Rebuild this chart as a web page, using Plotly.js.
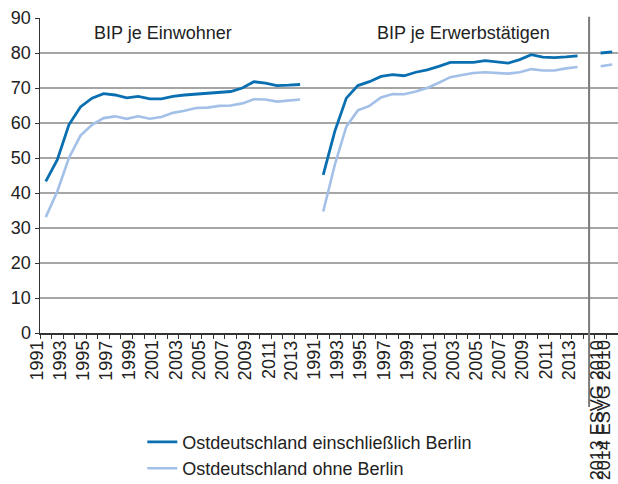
<!DOCTYPE html>
<html>
<head>
<meta charset="utf-8">
<script src="https://cdn.plot.ly/plotly-3.0.1.min.js"></script>
<style>html,body{margin:0;padding:0;background:#fff}#chart{width:618px;height:484px}</style>
</head>
<body>
<div id="chart"></div>
<script>
// ---- data (Westdeutschland = 100) ----
const years = ['1991','1992','1993','1994','1995','1996','1997','1998','1999','2000','2001','2002',
               '2003','2004','2005','2006','2007','2008','2009','2010','2011','2012','2013'];
const esvgLabels = ['2013 ESVG 2010', '2014 ESVG 2010'];
const seriesNames = ['Ostdeutschland einschließlich Berlin', 'Ostdeutschland ohne Berlin'];
const sectionTitles = ['BIP je Einwohner', 'BIP je Erwerbstätigen'];

// BIP je Einwohner
const einwohnerMitBerlin = [43.3,49.5,59.5,64.6,67.1,68.4,68.0,67.2,67.6,66.9,66.9,67.6,
                            68.0,68.3,68.5,68.9,69.0,70.0,71.8,71.4,70.7,70.8,71.0];
const einwohnerOhneBerlin = [33.1,40.5,50.0,56.4,59.5,61.4,61.9,61.2,61.9,61.2,61.7,62.9,
                             63.5,64.3,64.4,64.9,65.0,65.6,66.8,66.7,66.1,66.4,66.7];
// BIP je Erwerbstätigen
const erwerbMitBerlin = [45.2,57.6,67.1,70.7,71.8,73.3,73.8,73.5,74.5,75.2,76.2,77.3,
                         77.3,77.3,77.8,77.5,77.1,78.1,79.5,78.8,78.7,78.9,79.2];
const erwerbOhneBerlin = [34.7,48.0,59.0,63.6,64.9,67.3,68.3,68.2,69.0,70.0,71.5,73.1,
                          73.7,74.3,74.5,74.3,74.1,74.5,75.4,75.0,75.0,75.6,76.0];
// ESVG 2010 (2013, 2014)
const esvgMitBerlin = [80.0, 80.3];
const esvgOhneBerlin = [76.2, 76.7];

// ---- build category positions: segment, gap, segment, gap, ESVG ----
const n = years.length;
const seg1 = years.map((_, i) => i);
const gap1 = n;
const seg2 = years.map((_, i) => n + 1 + i);
const gap2 = 2 * n + 1;
const seg3 = esvgLabels.map((_, i) => gap2 + 1 + i);
const nCat = gap2 + 1 + esvgLabels.length;
const xRange = [-0.5, nCat - 0.5];

const xs = [...seg1, gap1, ...seg2, gap2, ...seg3];
const yMit = [...einwohnerMitBerlin, null, ...erwerbMitBerlin, null, ...esvgMitBerlin];
const yOhne = [...einwohnerOhneBerlin, null, ...erwerbOhneBerlin, null, ...esvgOhneBerlin];

const darkBlue = '#0a6fb0';
const lightBlue = '#a3c0e8';
const font = 'Liberation Sans, Arial, Helvetica, sans-serif';
const txtColor = '#222';

// category labels (every second year per segment, plus both ESVG labels), drawn as rotated text
// placed in paper units derived from the x axis range
const toPaper = v => (v - xRange[0]) / (xRange[1] - xRange[0]);
const labelAnns = [];
const labOff = -0.75;
const labelY = -0.02;
function addLabel(x, t) {
  labelAnns.push({ text: t, xref: 'paper', yref: 'paper', x: toPaper(x), y: labelY, textangle: -90,
    xanchor: 'center', yanchor: 'top', showarrow: false, borderpad: 0,
    font: { family: font, size: 18, color: txtColor } });
}
years.forEach((y, i) => { if (i % 2 === 0) addLabel(seg1[i] + labOff, y); });
years.forEach((y, i) => { if (i % 2 === 0) addLabel(seg2[i] + labOff, y); });
const esvgOff = [-0.32, -0.72];
esvgLabels.forEach((l, i) => addLabel(seg3[i] + esvgOff[i], l));

const traces = [
  { x: xs, y: yOhne, type: 'scatter', mode: 'lines', name: seriesNames[1],
    line: { color: lightBlue, width: 2.6 }, connectgaps: false },
  { x: xs, y: yMit, type: 'scatter', mode: 'lines', name: seriesNames[0],
    line: { color: darkBlue, width: 2.8 }, connectgaps: false }
];

const layout = {
  width: 618, height: 484,
  margin: { l: 40, r: 0, t: 18, b: 151, pad: 0, autoexpand: false },
  paper_bgcolor: '#fff', plot_bgcolor: '#fff',
  font: { family: font, size: 18, color: txtColor },
  showlegend: true,
  legend: { x: 0.177, y: -0.288, xanchor: 'left', yanchor: 'top', orientation: 'v',
            traceorder: 'reversed', font: { family: font, size: 18, color: txtColor },
            bgcolor: 'rgba(0,0,0,0)' },
  xaxis: {
    range: xRange, showgrid: false, zeroline: false,
    showline: true, linecolor: '#333', linewidth: 1.5,
    showticklabels: false, ticks: '',
    minor: { tickmode: 'linear', tick0: -0.5, dtick: 1, ticks: 'outside', ticklen: 4,
             tickcolor: '#333', tickwidth: 1, showgrid: false }
  },
  yaxis: {
    range: [0, 90], dtick: 10, tick0: 0, showgrid: true, gridcolor: '#a6a6a6', gridwidth: 1.5,
    zeroline: false, showline: true, linecolor: '#333', linewidth: 1.5,
    ticks: 'outside', ticklen: 4, tickcolor: '#333',
    tickfont: { family: font, size: 18, color: txtColor }
  },
  shapes: [
    { type: 'line', xref: 'x', yref: 'paper', x0: gap2, x1: gap2, y0: -0.235, y1: 1.004,
      line: { color: '#7a7a7a', width: 2 } }
  ],
  annotations: [
    { text: sectionTitles[0], xref: 'paper', yref: 'paper', x: 0.09, y: 0.952,
      xanchor: 'left', yanchor: 'middle', showarrow: false, font: { family: font, size: 18, color: txtColor } },
    { text: sectionTitles[1], xref: 'paper', yref: 'paper', x: 0.58, y: 0.952,
      xanchor: 'left', yanchor: 'middle', showarrow: false, font: { family: font, size: 18, color: txtColor } },
    ...labelAnns
  ]
};

Plotly.newPlot('chart', traces, layout, { staticPlot: true, displayModeBar: false });
</script>
</body>
</html>
